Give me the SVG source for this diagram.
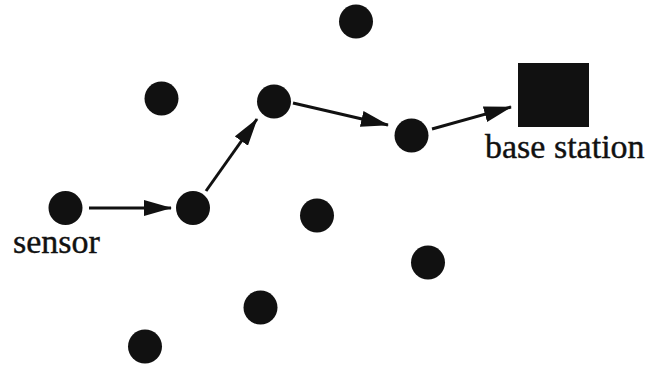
<svg xmlns="http://www.w3.org/2000/svg" width="647" height="365" viewBox="0 0 647 365">
<style>
.n{fill:#111}
.c{stroke:#111;stroke-width:3;fill:none}
text{font-family:"Liberation Serif","Times New Roman",serif;font-size:34px;fill:#111;stroke:#111;stroke-width:0.4}
</style>
<defs>
<marker id="ah" markerUnits="userSpaceOnUse" markerWidth="28" markerHeight="16" refX="27" refY="8" orient="auto">
<path d="M0,0 L28,8 L0,16 Z" fill="#111"/>
</marker>
</defs>
<rect width="647" height="365" fill="#fff"/>
<g id="connectors">
<line class="c" x1="89" y1="208" x2="171" y2="208" marker-end="url(#ah)"/>
<line class="c" x1="206" y1="191" x2="257" y2="119" marker-end="url(#ah)"/>
<line class="c" x1="293" y1="103" x2="388" y2="125" marker-end="url(#ah)"/>
<line class="c" x1="432" y1="129" x2="511" y2="107" marker-end="url(#ah)"/>
</g>
<g id="sensor"><circle class="n" cx="65.5" cy="208" r="17"/><text x="13" y="253">sensor</text></g>
<g id="n2"><circle class="n" cx="193" cy="208" r="17"/></g>
<g id="n3"><circle class="n" cx="274" cy="101.5" r="17"/></g>
<g id="n4"><circle class="n" cx="411.5" cy="135.5" r="17"/></g>
<g id="n5"><circle class="n" cx="356" cy="21.5" r="17"/></g>
<g id="n6"><circle class="n" cx="161.5" cy="98.5" r="17"/></g>
<g id="n7"><circle class="n" cx="317" cy="215.5" r="17"/></g>
<g id="n8"><circle class="n" cx="428" cy="262.5" r="17"/></g>
<g id="n9"><circle class="n" cx="260.5" cy="307.5" r="17"/></g>
<g id="n10"><circle class="n" cx="145" cy="346.5" r="17"/></g>
<g id="base"><rect class="n" x="518" y="63" width="71" height="64"/><text x="485" y="158">base station</text></g>
</svg>
